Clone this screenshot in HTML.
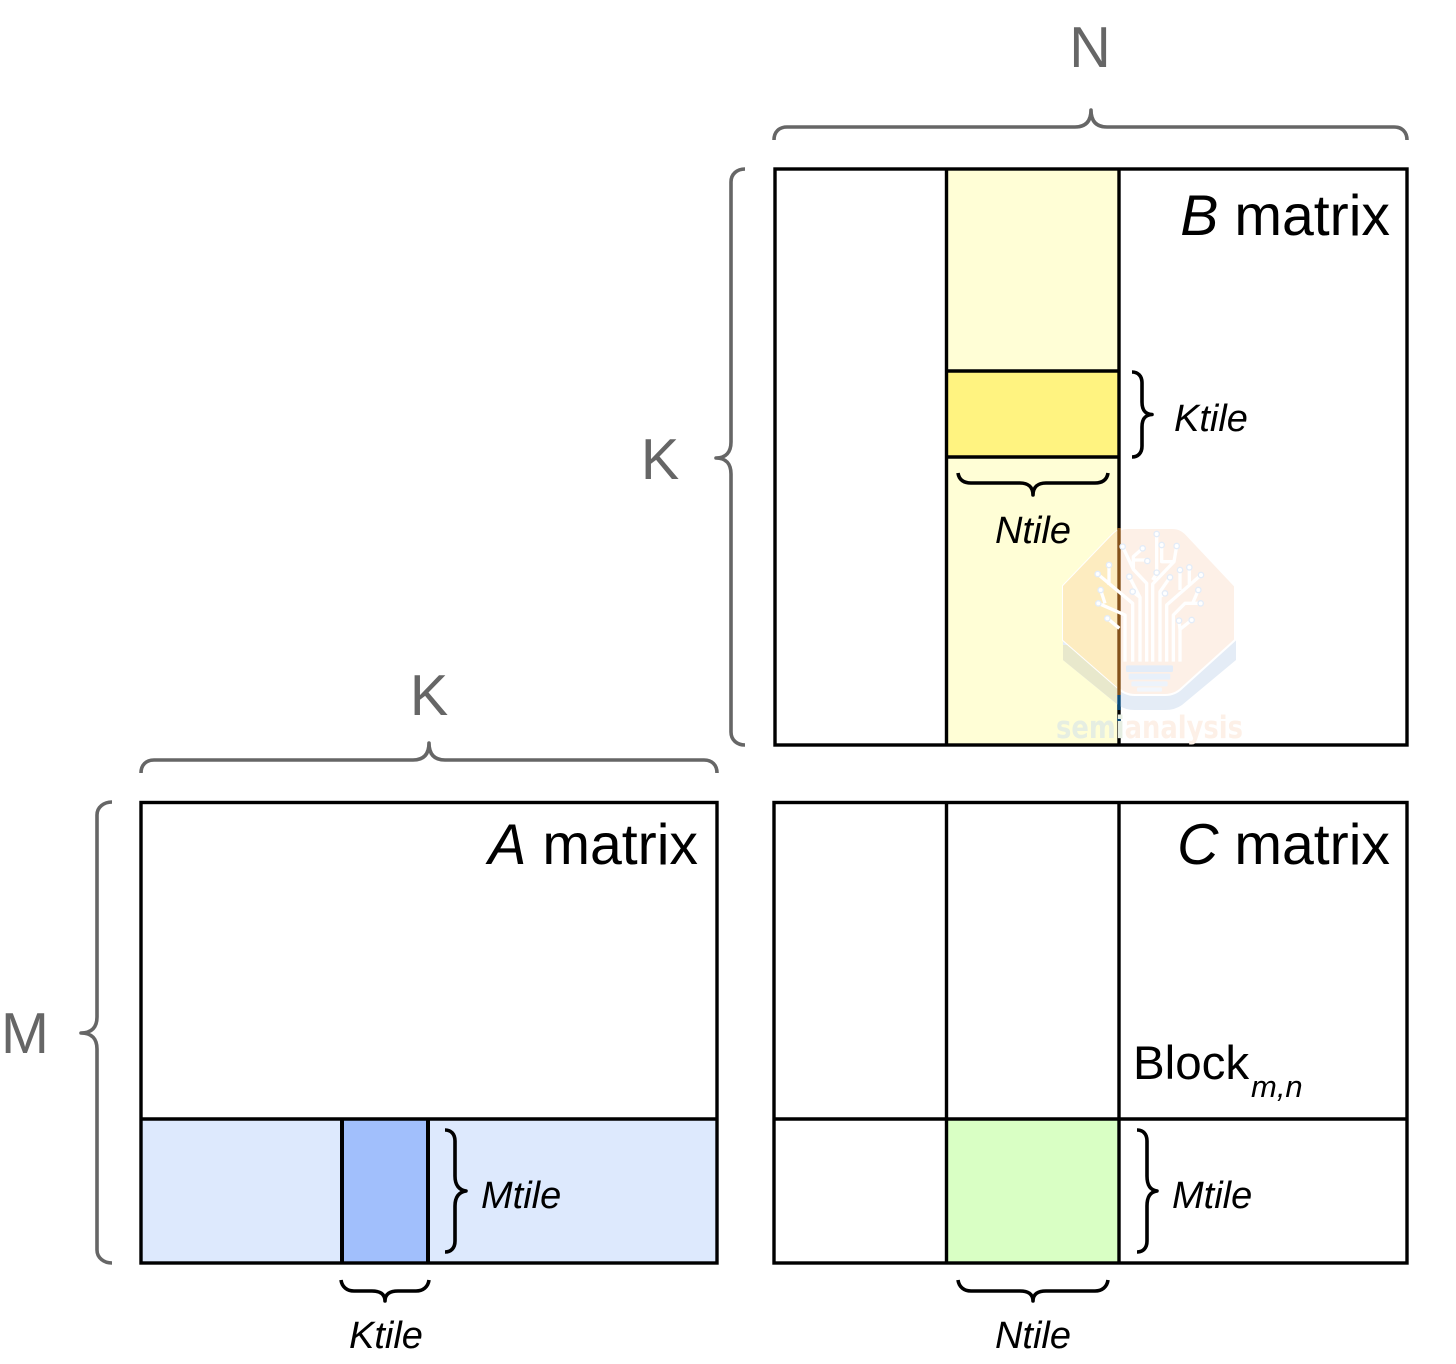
<!DOCTYPE html>
<html lang="en">
<head>
<meta charset="utf-8">
<title>Matrix multiplication tiling</title>
<style>
html,body{margin:0;padding:0;background:#fff}
svg{display:block}
text{font-family:"Liberation Sans",sans-serif}
.big{font-size:57.5px;fill:#666}
.title{font-size:57.2px;fill:#000}
.tile{font-size:38px;fill:#000;font-style:italic}
.b{fill:none;stroke:#000;stroke-width:3.6;stroke-linecap:butt;stroke-linejoin:round}
.g{fill:none;stroke:#666;stroke-width:3.6;stroke-linecap:butt;stroke-linejoin:round}
.m{fill:none;stroke:#000;stroke-width:3.4}
</style>
</head>
<body>
<svg width="1456" height="1364" viewBox="0 0 1456 1364" xmlns="http://www.w3.org/2000/svg">
<rect width="1456" height="1364" fill="#fff"/>

<!-- fills -->
<rect x="946.5" y="169" width="172.5" height="576" fill="#fffed6"/>
<rect x="946.5" y="371" width="172.5" height="86" fill="#fff380"/>
<rect x="141" y="1119" width="576" height="144" fill="#dde9fd"/>
<rect x="342" y="1119" width="86" height="144" fill="#a1bffc"/>
<rect x="946.5" y="1119" width="172.5" height="144" fill="#d9ffc4"/>

<!-- B matrix -->
<g class="m">
<rect x="775" y="169" width="632" height="576"/>
<path d="M946.5 169V745M1119 169V745M946.5 371H1119M946.5 457H1119"/>
<!-- A matrix -->
<rect x="141" y="802.5" width="576" height="460.5"/>
<path d="M141 1119H717"/>
<path d="M342 1119V1263M428 1119V1263" stroke-width="4"/>
<!-- C matrix -->
<rect x="774" y="802.5" width="633" height="460.5"/>
<path d="M946.5 802.5V1263M1119 802.5V1263M774 1119H1407"/>
</g>

<!-- watermark -->
<g>
<path d="M1063 640 V660 L1118 705 Q1125 710 1135 710 H1165 Q1175 710 1182 705 L1236 660 V640 Z" fill="#e4ecf6"/>
<path d="M1063 645 V660 L1117 704 V645 Z" fill="#e8e8cc"/>
<path d="M1063 586 L1112 535 Q1119 528 1128 528 H1172 Q1181 528 1187 535 L1235 586 V640 L1182 688 Q1175 695 1165 695 H1135 Q1125 695 1118 688 L1063 640 Z" fill="#fdf0e7" stroke="#fff" stroke-width="2"/>
<path d="M1063 586 L1112 535 Q1115 532 1117.3 530.5 V692.5 Q1117 690 1118 688 L1063 640 Z" fill="#fdecc0"/>
<rect x="1117.300" y="528" width="3.400" height="167" fill="#85521a"/>
<rect x="1117.300" y="695" width="3.400" height="15" fill="#0a4a78"/>
<rect x="1117.300" y="718" width="3.400" height="3" fill="#0a4a78"/>
<g transform="translate(1030 510) scale(.33333)">
<g fill="none" stroke="#fff" stroke-width="10" stroke-linejoin="round">
<path d="M350 455V220L310 178V140L338 115M310 150H352M310 178L278 110"/>
<path d="M368 455V222L432 155H395V105M432 155L440 108M380 75V190M368 210L380 190"/>
<path d="M330 455V262L298 200M330 262L308 245"/>
<path d="M308 455V280L203 192M237 165V225"/>
<path d="M285 455V315L205 280M212 240L225 280"/>
<path d="M268 355L232 325"/>
<path d="M390 455V245L420 202M390 260L405 250"/>
<path d="M410 455V285L513 195M450 180V240M478 172V222"/>
<path d="M430 455V315L465 280H512M505 240L488 280"/>
<path d="M450 455V358L485 330M450 358L447 332"/>
</g>
<g fill="#fff" stroke="#e3ecf8" stroke-width="4">
<circle cx="380" cy="72" r="8"/><circle cx="278" cy="110" r="8"/><circle cx="338" cy="115" r="8"/>
<circle cx="395" cy="105" r="8"/><circle cx="440" cy="108" r="8"/><circle cx="352" cy="153" r="8"/>
<circle cx="237" cy="165" r="8"/><circle cx="203" cy="192" r="8"/><circle cx="212" cy="240" r="8"/>
<circle cx="205" cy="280" r="8"/><circle cx="232" cy="325" r="8"/><circle cx="298" cy="200" r="8"/>
<circle cx="308" cy="245" r="8"/><circle cx="380" cy="188" r="8"/><circle cx="420" cy="202" r="8"/>
<circle cx="405" cy="250" r="8"/><circle cx="450" cy="180" r="8"/><circle cx="478" cy="172" r="8"/>
<circle cx="513" cy="195" r="8"/><circle cx="505" cy="240" r="8"/><circle cx="512" cy="280" r="8"/>
<circle cx="485" cy="330" r="8"/><circle cx="447" cy="332" r="8"/>
</g>
<rect x="288" y="466" width="141" height="20" rx="4" fill="#e3ecf8"/>
<rect x="296" y="491" width="125" height="18" rx="4" fill="#e8f0fa"/>
<rect x="304" y="514" width="109" height="15" rx="4" fill="#edf3fb"/>
<rect x="321" y="532" width="75" height="13" rx="4" fill="#f2f6fc"/>
</g>
<text x="1056" y="738" font-size="31" font-weight="bold" textLength="187" lengthAdjust="spacingAndGlyphs" style="font-family:'DejaVu Sans',sans-serif"><tspan fill="#e6eee2">semi</tspan><tspan fill="#fdf0e7">analysis</tspan></text>
</g>

<!-- gray braces -->
<path class="g" d="M774 140C774 132 779 127 787 127H1075C1085 127 1091 122 1091 110C1091 122 1097 127 1107 127H1394C1402 127 1407 132 1407 140"/>
<path class="g" d="M141 773C141 765 146 760 154 760H413C423 760 429 755 429 743C429 755 435 760 445 760H704C712 760 717 765 717 773"/>
<path class="g" d="M745 169C737 169 731 174 731 182V442C731 452 726 458 716 458C726 458 731 464 731 474V732C731 740 737 745 745 745"/>
<path class="g" d="M112 802C104 802 97 807 97 815V1017C97 1027 92 1033 81 1033C92 1033 97 1039 97 1049V1250C97 1258 104 1263 112 1263"/>

<!-- black braces -->
<path class="b" d="M1132 372C1138 372 1142 376 1142 383V402C1142 410 1145 414 1152 414.500C1145 415 1142 419 1142 427V446C1142 453 1138 457 1132 457"/>
<path class="b" d="M958 473C959 480 964 483 971 483H1020C1028 483 1033 487 1033 495C1033 487 1038 483 1046 483H1095C1102 483 1107 480 1108 473"/>
<path class="b" d="M341 1280C342 1287 347 1291 354 1291H372C380 1291 385 1294 385 1301C385 1294 390 1291 398 1291H416C423 1291 428 1287 429 1280"/>
<path class="b" d="M445 1130C451 1130 455 1134 455 1141V1176C455 1185 459 1190 466 1191C459 1192 455 1197 455 1206V1241C455 1248 451 1252 445 1252"/>
<path class="b" d="M1137 1130C1143 1130 1147 1134 1147 1141V1176C1147 1185 1150 1190 1157 1191C1150 1192 1147 1197 1147 1206V1241C1147 1248 1143 1252 1137 1252"/>
<path class="b" d="M958 1280C959 1287 964 1291 971 1291H1020C1028 1291 1033 1294 1033 1301C1033 1294 1038 1291 1046 1291H1095C1102 1291 1107 1287 1108 1280"/>

<!-- gray labels -->
<text class="big" x="1090" y="67" text-anchor="middle">N</text>
<text class="big" x="660" y="479" text-anchor="middle">K</text>
<text class="big" x="429" y="715" text-anchor="middle">K</text>
<text class="big" x="1" y="1053">M</text>

<!-- titles -->
<text class="title" x="1390" y="235" text-anchor="end"><tspan font-style="italic">B</tspan> matrix</text>
<text class="title" x="698" y="864" text-anchor="end"><tspan font-style="italic">A</tspan> matrix</text>
<text class="title" x="1390" y="864" text-anchor="end"><tspan font-style="italic">C</tspan> matrix</text>

<!-- tile labels -->
<text class="tile" x="1174" y="431">Ktile</text>
<text class="tile" x="1033" y="543" text-anchor="middle">Ntile</text>
<text class="tile" x="481" y="1208">Mtile</text>
<text class="tile" x="1172" y="1208">Mtile</text>
<text class="tile" x="349" y="1348">Ktile</text>
<text class="tile" x="1033" y="1348" text-anchor="middle">Ntile</text>

<text x="1133" y="1079" font-size="47.500" fill="#000">Block</text>
<text x="1251" y="1097" font-size="31" font-style="italic" fill="#000">m,n</text>
</svg>
</body>
</html>
